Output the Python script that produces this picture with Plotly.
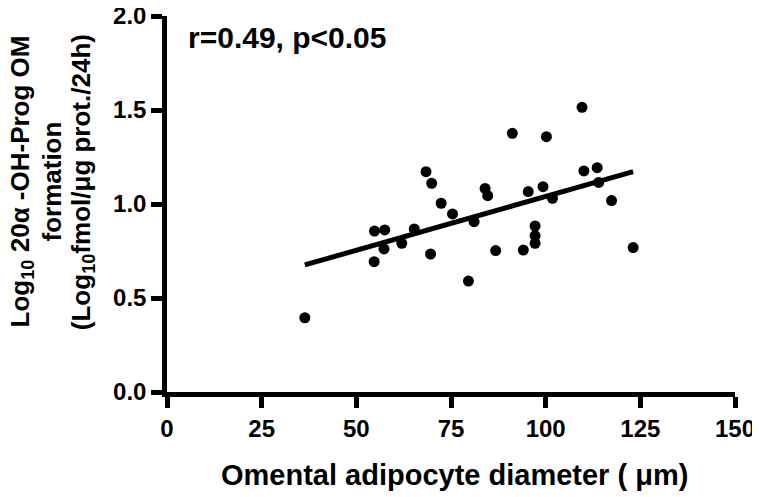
import numpy as np
import plotly.graph_objects as go

# Data
diameter_um = [36.4, 54.7, 54.8, 57.3, 57.5, 62.0, 65.3, 68.4, 69.6, 69.9,
               72.4, 75.4, 79.6, 81.1, 84.0, 84.7, 86.8, 91.2, 94.1, 95.4,
               97.2, 97.2, 97.2, 99.3, 100.2, 101.8, 109.6, 110.1, 113.6, 114.0,
               117.4, 123.1]
log_formation = [0.395, 0.693, 0.856, 0.761, 0.862, 0.791, 0.867, 1.172, 0.734, 1.110,
                 1.004, 0.947, 0.590, 0.906, 1.083, 1.044, 0.752, 1.376, 0.755, 1.066,
                 0.883, 0.832, 0.791, 1.092, 1.358, 1.030, 1.514, 1.176, 1.193, 1.115,
                 1.018, 0.768]
x_ticks = [0, 25, 50, 75, 100, 125, 150]
y_ticks = [0.0, 0.5, 1.0, 1.5, 2.0]
y_tick_labels = ["0.0", "0.5", "1.0", "1.5", "2.0"]
stats_label = "r=0.49, p<0.05"
x_title = "Omental adipocyte diameter ( \u03bcm)"
y_title_lines = ["Log<sub>10</sub> 20\u03b1 -OH-Prog OM",
                 "formation",
                 "(Log<sub>10</sub>fmol/\u03bcg prot./24h)"]

# Linear regression line from the data
slope, intercept = np.polyfit(diameter_um, log_formation, 1)
fit_x = np.array([min(diameter_um), max(diameter_um)])
fit_y = slope * fit_x + intercept

FONT = "Arial, Liberation Sans, sans-serif"

fig = go.Figure()
fig.add_trace(go.Scatter(x=fit_x, y=fit_y, mode="lines",
                         line=dict(color="black", width=5), showlegend=False))
fig.add_trace(go.Scatter(x=diameter_um, y=log_formation, mode="markers",
                         marker=dict(color="black", size=11), showlegend=False))

# the page body has an 8px margin, so the figure is sized 8px smaller
fig.update_layout(
    width=752, height=489,
    margin=dict(l=159, r=25, t=8, b=105),
    paper_bgcolor="white", plot_bgcolor="white",
    font=dict(family=FONT, color="black"),
)
axis_common = dict(showgrid=False, zeroline=False, showline=True, linecolor="black",
                   linewidth=4.5, ticks="outside", ticklen=11, tickwidth=4.5,
                   tickcolor="black", automargin=False, ticklabeloverflow="allow",
                   tickfont=dict(family=FONT, size=24, color="black", weight="bold"))
fig.update_xaxes(range=[0, 150], tickvals=x_ticks, ticktext=[str(v) for v in x_ticks],
                 **axis_common)
fig.update_yaxes(range=[0, 2.0], tickvals=y_ticks, ticktext=y_tick_labels,
                 **axis_common)

fig.add_annotation(text=stats_label, xref="paper", yref="paper", x=0.034, y=0.943,
                   xanchor="left", yanchor="middle", showarrow=False,
                   font=dict(family=FONT, size=30, color="black", weight="bold"))
fig.add_annotation(text=x_title, xref="paper", yref="paper", x=0.507, y=-0.222,
                   xanchor="center", yanchor="middle", showarrow=False,
                   font=dict(family=FONT, size=29, color="black", weight="bold"))
for xp, line in zip([-0.256, -0.203, -0.149], y_title_lines):
    fig.add_annotation(text=line, xref="paper", yref="paper", x=xp, y=0.559,
                       xanchor="center", yanchor="middle", textangle=-90,
                       showarrow=False,
                       font=dict(family=FONT, size=26, color="black", weight="bold"))

fig.write_html("out.html")
